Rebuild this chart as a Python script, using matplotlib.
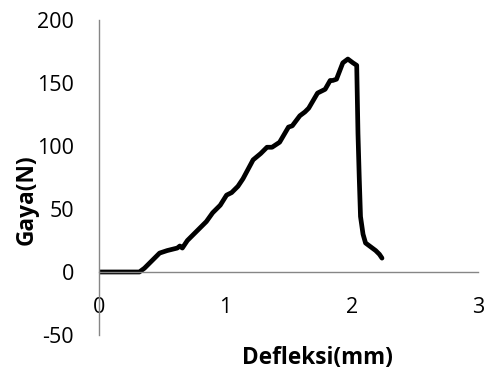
import matplotlib.pyplot as plt
import numpy as np

# deflection (mm) and force (N)
defleksi = [0.0, 0.10, 0.20, 0.32, 0.36, 0.42, 0.48, 0.54, 0.62, 0.64, 0.66, 0.70,
            0.78, 0.85, 0.90, 0.96, 1.01, 1.05, 1.10, 1.14, 1.22, 1.28, 1.33, 1.37,
            1.43, 1.50, 1.53, 1.59, 1.63, 1.66, 1.73, 1.79, 1.83, 1.85, 1.88, 1.93,
            1.97, 2.01, 2.04, 2.05, 2.06, 2.07, 2.09, 2.11, 2.15, 2.19, 2.22, 2.24]
gaya = [0, 0, 0, 0, 3, 9, 15, 17, 19, 20.6, 19, 25,
        33, 40, 47, 53, 61, 63, 68, 74, 89, 94, 99, 99,
        103, 115, 116, 124, 127, 130, 142, 145, 152, 152, 153, 166,
        169, 166, 164, 110, 75, 44, 30, 23, 20, 17, 14, 11]

xticks = [0, 1, 2, 3]
yticks = [-50, 0, 50, 100, 150, 200]

plt.rcParams['font.family'] = ['Open Sans', 'DejaVu Sans']

fig = plt.figure(figsize=(4.85, 3.78), dpi=100)
ax = fig.add_axes([0.204, 0.1138, 0.7816, 0.8333])

ax.plot(defleksi, gaya, color='black', linewidth=3.4, solid_joinstyle='round',
        solid_capstyle='round')

ax.set_xlim(0, 3)
ax.set_ylim(-50, 200)
ax.set_xticks(xticks)
ax.set_yticks(yticks)
ax.set_xticklabels([str(t) for t in xticks])
ax.set_yticklabels([str(t) for t in yticks])

for s in ['top', 'right']:
    ax.spines[s].set_visible(False)
ax.spines['bottom'].set_position(('data', 0))
for s in ['left', 'bottom']:
    ax.spines[s].set_color('#868686')
    ax.spines[s].set_linewidth(1.0)

ax.tick_params(axis='x', length=0, pad=18, labelsize=15.5, colors='black')
ax.tick_params(axis='y', length=0, pad=18, labelsize=15.5, colors='black')

fig.text(27/485, 1-200/378, 'Gaya(N)', rotation=90, ha='center', va='center',
         fontsize=16.3, fontweight='bold')
fig.text(317/485, 1-358/378, 'Defleksi(mm)', ha='center', va='center',
         fontsize=16.3, fontweight='bold')

plt.savefig('out.png', dpi=100)
